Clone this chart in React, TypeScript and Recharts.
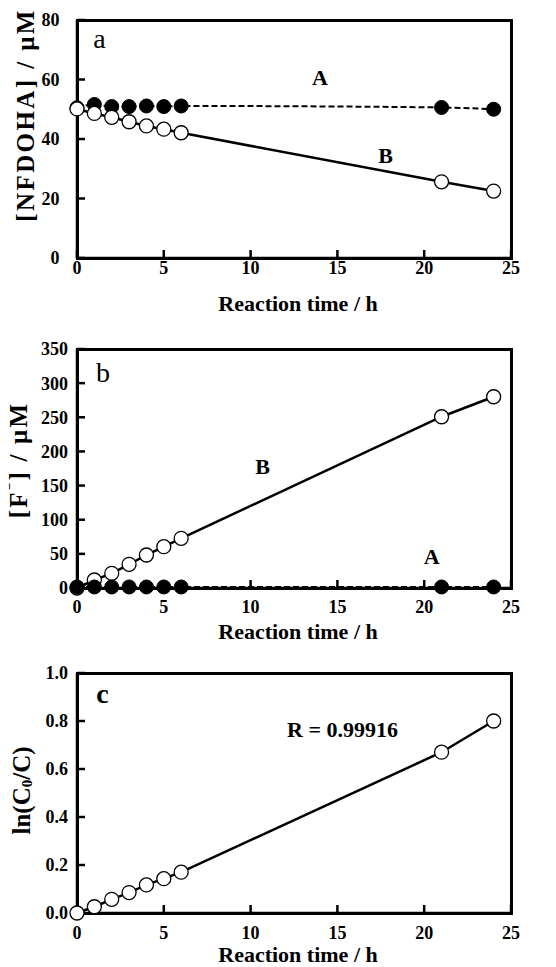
import { LineChart, Line, XAxis, YAxis, Label } from 'recharts';

const hours = [0, 1, 2, 3, 4, 5, 6, 21, 24];
// panel a: [NFDOHA] / uM
const nfdohaA = [50.5, 51.6, 50.9, 50.9, 51.1, 50.9, 51.1, 50.6, 50.0];
const nfdohaB = [50.1, 48.6, 47.3, 45.8, 44.4, 43.3, 42.1, 25.6, 22.5];
// panel b: [F-] / uM
const fluorideA = [1.5, 1.5, 1.5, 1.5, 1.5, 1.5, 1.5, 1.5, 1.5];
const fluorideB = [0, 11.7, 21.5, 34.7, 48.3, 60.5, 72.8, 250.8, 280.1];
// panel c: ln(C0/C)
const lnRatio = [0.0, 0.026, 0.057, 0.085, 0.117, 0.143, 0.17, 0.67, 0.8];

const xTicks = [0, 5, 10, 15, 20, 25];
const nfdohaTicks = [0, 20, 40, 60, 80];
const fluorideTicks = [0, 50, 100, 150, 200, 250, 300, 350];
const lnTicks = [0, 0.2, 0.4, 0.6, 0.8, 1.0];

const FONT = '"Liberation Serif", "Times New Roman", serif';

const dataA = hours.map((h, i) => ({ h, A: nfdohaA[i], B: nfdohaB[i] }));
const dataB = hours.map((h, i) => ({ h, A: fluorideA[i], B: fluorideB[i] }));
const dataC = hours.map((h, i) => ({ h, v: lnRatio[i] }));

const openDot = { r: 7, fill: '#fff', stroke: '#000', strokeWidth: 1.3, strokeDasharray: '0' };
const filledDot = { r: 7, fill: '#000', stroke: '#000', strokeWidth: 1, strokeDasharray: '0' };

const tickStyle = { fill: '#000', fontSize: 18, fontWeight: 700, fontFamily: FONT };
const tickLine = { stroke: '#000', strokeWidth: 2.5 };
const frameLine = { stroke: '#000', strokeWidth: 2.5 };

const PLOT_LEFT = 77;
const PLOT_RIGHT = 511;

function xTitle(baseline: number) {
  return () => (
    <text x={298} y={baseline} textAnchor="middle" fontFamily={FONT} fontWeight={700} fontSize={22} fill="#000">
      Reaction time / h
    </text>
  );
}

// plot box as a css border, sits behind the chart svg
function Frame({ top, plotTop, plotBottom }: any) {
  return (
    <div
      style={{
        position: 'absolute',
        left: PLOT_LEFT - 1.5,
        top: top + plotTop - 1.5,
        width: PLOT_RIGHT - PLOT_LEFT + 3,
        height: plotBottom - plotTop + 3,
        border: '3px solid #000',
        boxSizing: 'border-box',
      }}
    />
  );
}

// panel letter, curve names and y title, drawn behind the chart svg
function Backdrop({ top, height, yTitle, notes }: any) {
  return (
    <svg width={556} height={height} style={{ position: 'absolute', top, left: 0 }}>
      <text
        x={yTitle.cx}
        y={yTitle.cy}
        transform={`rotate(-90 ${yTitle.cx} ${yTitle.cy})`}
        textAnchor="middle"
        dominantBaseline="central"
        fontFamily={FONT}
        fontWeight={700}
        fontSize={25}
        letterSpacing={yTitle.spacing || 0}
        fill="#000"
      >
        {yTitle.content}
      </text>
      {notes.map((n: any) => (
        <text key={n.text} x={n.x} y={n.y} textAnchor="middle" fontFamily={FONT}
          fontSize={n.size || 22} fontWeight={n.weight || 700} fill="#000">
          {n.text}
        </text>
      ))}
    </svg>
  );
}

export default function App() {
  return (
    <div style={{ position: 'absolute', top: 0, left: 0, width: 556, height: 967, background: '#fff' }}>
      {/* a */}
      <Frame top={0} plotTop={20} plotBottom={258} />
      <Backdrop top={0} height={318}
        yTitle={{ cx: 25, cy: 115, spacing: 2.4, content: '[NFDOHA] / μM' }}
        notes={[
          { text: 'a', x: 99.5, y: 48, size: 28, weight: 400 },
          { text: 'A', x: 320, y: 85 },
          { text: 'B', x: 385.5, y: 163 },
        ]} />
      <div style={{ position: 'absolute', top: 0, left: 0 }}>
        <LineChart width={556} height={318} data={dataA} margin={{ top: 20, right: 45, left: 0, bottom: 0 }}>
          <XAxis dataKey="h" type="number" domain={[0, 25]} ticks={xTicks} height={60}
            axisLine={frameLine} tickSize={-8} tickMargin={11} tickLine={tickLine} tick={tickStyle} interval={0}>
            <Label content={xTitle(311)} />
          </XAxis>
          <YAxis type="number" domain={[0, 80]} ticks={nfdohaTicks} width={77}
            axisLine={frameLine} tickSize={-8} tickMargin={25.5} tickLine={tickLine} tick={tickStyle} interval={0} />
          <Line dataKey="A" type="monotone" stroke="#000" strokeWidth={2} strokeDasharray="6 3"
            dot={filledDot} activeDot={false} isAnimationActive={false} />
          <Line dataKey="B" type="linear" stroke="#000" strokeWidth={2.5}
            dot={openDot} activeDot={false} isAnimationActive={false} />
        </LineChart>
      </div>
      {/* b */}
      <Frame top={318} plotTop={31} plotBottom={270} />
      <Backdrop top={318} height={326}
        yTitle={{
          cx: 18, cy: 142, spacing: 2.2,
          content: (
            <>
              <tspan>[F</tspan>
              <tspan dy={-9} fontSize={13}>−</tspan>
              <tspan dy={9}>] / μM</tspan>
            </>
          ),
        }}
        notes={[
          { text: 'b', x: 103, y: 64, size: 28, weight: 400 },
          { text: 'B', x: 262.5, y: 156 },
          { text: 'A', x: 431.7, y: 246 },
        ]} />
      <div style={{ position: 'absolute', top: 318, left: 0 }}>
        <LineChart width={556} height={326} data={dataB} margin={{ top: 31, right: 45, left: 0, bottom: 0 }}>
          <XAxis dataKey="h" type="number" domain={[0, 25]} ticks={xTicks} height={56}
            axisLine={frameLine} tickSize={-8} tickMargin={20} tickLine={tickLine} tick={tickStyle} interval={0}>
            <Label content={xTitle(321)} />
          </XAxis>
          <YAxis type="number" domain={[0, 350]} ticks={fluorideTicks} width={77}
            axisLine={frameLine} tickSize={-8} tickMargin={17} tickLine={tickLine} tick={tickStyle} interval={0} />
          <Line dataKey="B" type="linear" stroke="#000" strokeWidth={2.5}
            dot={openDot} activeDot={false} isAnimationActive={false} />
          <Line dataKey="A" type="linear" stroke="#000" strokeWidth={2} strokeDasharray="6 3"
            dot={filledDot} activeDot={false} isAnimationActive={false} />
        </LineChart>
      </div>
      {/* c */}
      <Frame top={644} plotTop={29} plotBottom={269} />
      <Backdrop top={644} height={323}
        yTitle={{
          cx: 21, cy: 146.5,
          content: (
            <>
              <tspan>ln(C</tspan>
              <tspan dy={6} fontSize={15}>0</tspan>
              <tspan dy={-6}>/C)</tspan>
            </>
          ),
        }}
        notes={[
          { text: 'c', x: 102.5, y: 59, size: 28, weight: 700 },
          { text: 'R = 0.99916', x: 342.5, y: 93 },
        ]} />
      <div style={{ position: 'absolute', top: 644, left: 0 }}>
        <LineChart width={556} height={323} data={dataC} margin={{ top: 29, right: 45, left: 0, bottom: 0 }}>
          <XAxis dataKey="h" type="number" domain={[0, 25]} ticks={xTicks} height={54}
            axisLine={frameLine} tickSize={-8} tickMargin={21} tickLine={tickLine} tick={tickStyle} interval={0}>
            <Label content={xTitle(318)} />
          </XAxis>
          <YAxis type="number" domain={[0, 1]} ticks={lnTicks} width={77}
            axisLine={frameLine} tickSize={-8} tickMargin={17} tickLine={tickLine} tick={tickStyle} interval={0}
            tickFormatter={(v: number) => v.toFixed(1)} />
          <Line dataKey="v" type="linear" stroke="#000" strokeWidth={2.5}
            dot={openDot} activeDot={false} isAnimationActive={false} />
        </LineChart>
      </div>
    </div>
  );
}
